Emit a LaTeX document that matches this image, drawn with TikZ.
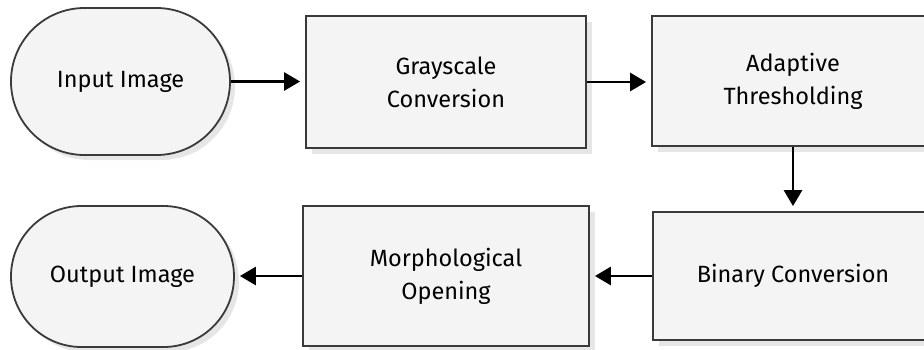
\documentclass[tikz,border=0pt]{standalone}
\usepackage{fontspec}
\setmainfont{Fira Sans}
\usetikzlibrary{shapes.misc,shadows,arrows.meta}
\definecolor{boxfill}{HTML}{F4F4F4}
\definecolor{boxline}{HTML}{3A3A3A}
\definecolor{shadowc}{HTML}{E6E6E6}
\begin{document}
\begin{tikzpicture}[x=1pt,y=-1pt,
  every node/.style={font=\fontsize{23.5}{33}\selectfont, text=black, align=center, inner sep=0pt},
  procbox/.style={draw=boxline, line width=1.8pt, fill=boxfill, rectangle,
    drop shadow={shadow xshift=6pt, shadow yshift=-6pt, fill=shadowc, opacity=1}},
  termbox/.style={draw=boxline, line width=1.8pt, fill=boxfill, rounded rectangle,
    drop shadow={shadow xshift=5pt, shadow yshift=-5pt, fill=shadowc, opacity=1}},
  flow/.style={line width=2.8pt, -{Triangle[length=16pt,width=18pt]}, shorten >=5pt}
]
\useasboundingbox (0,0) rectangle (924,349);
\node[termbox, minimum width=219pt, minimum height=147pt] (in) at (120.5,81.5) {Input Image};
\node[procbox, minimum width=280pt, minimum height=132pt] (gray) at (446,82) {Grayscale\\Conversion};
\node[procbox, minimum width=282pt, minimum height=130pt] (adapt) at (793,81) {Adaptive\\Thresholding};
\node[procbox, minimum width=280pt, minimum height=128pt] (bin) at (793,276) {Binary Conversion};
\node[procbox, minimum width=286pt, minimum height=140pt] (morph) at (446,276) {Morphological\\Opening};
\node[termbox, minimum width=223pt, minimum height=141pt] (out) at (122.5,276.5) {Output Image};
\draw[flow] (in.east) -- (in.east -| gray.west);
\draw[flow] (gray.east) -- (gray.east -| adapt.west);
\draw[flow] (adapt.south) -- (adapt.south |- bin.north);
\draw[flow] (bin.west) -- (bin.west -| morph.east);
\draw[flow] (morph.west) -- (morph.west -| out.east);
\end{tikzpicture}
\end{document}
